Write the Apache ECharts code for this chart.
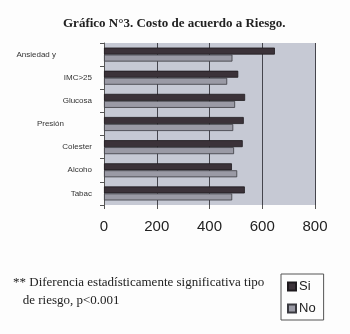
<!DOCTYPE html>
<html>
<head>
<meta charset="utf-8">
<script src="https://cdn.jsdelivr.net/npm/echarts@6/dist/echarts.min.js"></script>
<style>
html,body{margin:0;padding:0;background:#fff;}
#chart{width:350px;height:334px;}
</style>
</head>
<body>
<div id="chart"></div>
<script>
var categories = ['Ansiedad y', 'IMC>25', 'Glucosa', 'Presión', 'Colester', 'Alcoho', 'Tabac'];
var siValues = [648, 509, 535, 530, 526, 485, 534];
var noValues = [487, 467, 497, 490, 493, 505, 486];
var xTicks = [0, 200, 400, 600, 800];

var myChart = echarts.init(document.getElementById('chart'));
var option = {
    backgroundColor: '#fdfdfd',
    animation: false,
    title: {
        text: 'Gráfico N°3. Costo de acuerdo a Riesgo.',
        left: 58,
        top: 12,
        textStyle: {
            fontFamily: 'Liberation Serif',
            fontWeight: 'bold',
            fontSize: 13,
            color: '#222'
        }
    },
    legend: {
        orient: 'vertical',
        left: 281,
        top: 274,
        width: 44,
        padding: [6, 8, 5, 6],
        itemGap: 9,
        itemWidth: 8,
        itemHeight: 8,
        borderColor: '#555',
        borderWidth: 1,
        icon: 'rect',
        data: ['Si', 'No'],
        textStyle: {
            fontFamily: 'Liberation Sans',
            fontSize: 13,
            color: '#222',
            padding: [0, 0, 0, -2]
        }
    },
    graphic: [{
        type: 'text',
        left: 13,
        top: 274,
        style: {
            text: '** Diferencia estadísticamente significativa tipo\n   de riesgo, p<0.001',
            font: '13px "Liberation Serif"',
            fill: '#222',
            lineHeight: 18
        }
    }],
    grid: {
        left: 104,
        top: 43,
        width: 211,
        height: 162,
        show: true,
        backgroundColor: '#c6c9d4',
        borderWidth: 0
    },
    xAxis: {
        type: 'value',
        min: xTicks[0],
        max: xTicks[xTicks.length - 1],
        interval: 200,
        axisLine: {show: false},
        axisTick: {show: true, length: 4, lineStyle: {color: '#555'}},
        splitLine: {show: true, lineStyle: {color: '#45454d', width: 1}},
        axisLabel: {
            fontFamily: 'Liberation Sans',
            fontSize: 15,
            color: '#222',
            margin: 14
        }
    },
    yAxis: {
        type: 'category',
        inverse: true,
        data: categories,
        axisLine: {show: true, lineStyle: {color: '#555'}},
        axisTick: {show: true, length: 4, lineStyle: {color: '#555'}},
        axisLabel: {
            fontFamily: 'Liberation Sans',
            fontSize: 8,
            color: '#333',
            margin: 12,
            formatter: function (v) {
                if (v === 'Ansiedad y') return '{a|' + v + '}';
                if (v === 'Presión') return '{b|' + v + '}';
                return v;
            },
            rich: {
                a: {fontSize: 8, fontFamily: 'Liberation Sans', color: '#333', padding: [0, 36, 0, 0]},
                b: {fontSize: 8, fontFamily: 'Liberation Sans', color: '#333', padding: [0, 28, 0, 0]}
            }
        }
    },
    series: [
        {
            name: 'Si',
            type: 'bar',
            data: siValues,
            barWidth: 7,
            barGap: '0%',
            itemStyle: {color: '#3b3239', borderColor: '#1e1a1e', borderWidth: 0.8}
        },
        {
            name: 'No',
            type: 'bar',
            data: noValues,
            barWidth: 7,
            itemStyle: {color: '#9a9aa5', borderColor: '#3a3a40', borderWidth: 0.8}
        }
    ]
};
myChart.setOption(option);
</script>
</body>
</html>
